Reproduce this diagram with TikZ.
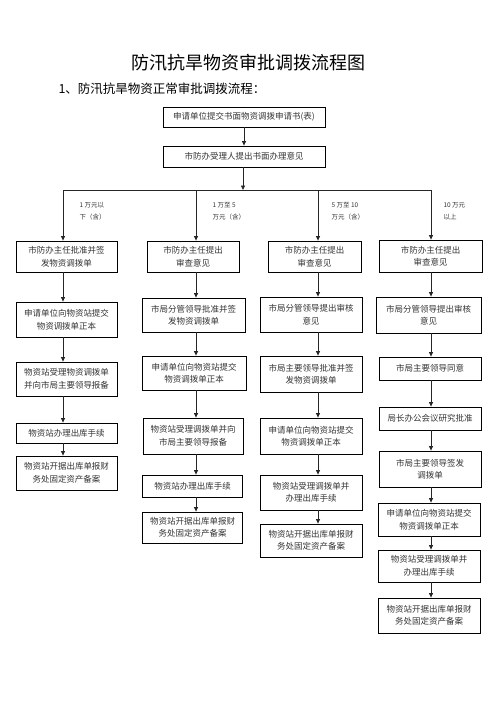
\documentclass[tikz,border=0pt]{standalone}
\usepackage{fontspec}
\setmainfont{Noto Sans CJK SC}
\usepackage{xcolor}
\usepackage{tikz}
\usetikzlibrary{arrows.meta, calc}
\tikzset{
  stepbox/.style={rectangle, draw=black, line width=0.8pt, inner sep=0pt,
                  align=center, text=black!80,
                  font=\fontsize{8.5}{12.5}\selectfont},
  arr/.style={-{Triangle[length=4.5pt,width=4pt]}, line width=0.8pt, draw=black!85},
  lnk/.style={line width=0.8pt, draw=black!85},
  amt/.style={anchor=west, align=left, text=black!80,
              font=\fontsize{6.5}{12}\selectfont},
}

\begin{document}
\begin{tikzpicture}[x=1pt,y=-1pt]
  \useasboundingbox (0,0) rectangle (496,702);
  % headings
  \node (title) at (248,63) {\fontsize{18}{20}\selectfont 防汛抗旱物资审批调拨流程图};
  \node[anchor=west] (sub) at (55,89)
        {\fontsize{12.5}{14}\selectfont 1、防汛抗旱物资正常审批调拨流程：};
  % common start
  \node[stepbox,minimum width=162pt,minimum height=20pt] (a1) at (244,117)
        {申请单位提交书面物资调拨申请书(表)};
  \node[stepbox,minimum width=162pt,minimum height=21pt] (a2) at (244,156.5)
        {市防办受理人提出书面办理意见};
  % split line
  \coordinate (j) at (243,190);
  \coordinate (k1) at (63,190);
  \coordinate (k2) at (196,190);
  \coordinate (k3) at (318,190);
  \coordinate (k4) at (431,190);
  % amount labels
  \node[amt] (l1) at (76,211)  {1 万元以\\下（含）};
  \node[amt] (l2) at (209,211) {1 万至 5\\万元（含）};
  \node[amt] (l3) at (328,211) {5 万至 10\\万元（含）};
  \node[amt] (l4) at (440,211) {10 万元\\以上};
  % column 1
  \node[stepbox,minimum width=101pt,minimum height=31pt] (b1) at (66.5,256.5)
        {市防办主任批准并签\\发物资调拨单};
  \node[stepbox,minimum width=101pt,minimum height=35pt] (b2) at (66.5,319.5)
        {申请单位向物资站提交\\物资调拨单正本};
  \node[stepbox,minimum width=101pt,minimum height=34pt] (b3) at (66.5,379)
        {物资站受理物资调拨单\\并向市局主要领导报备};
  \node[stepbox,minimum width=101pt,minimum height=20pt] (b4) at (66.5,433)
        {物资站办理出库手续};
  \node[stepbox,minimum width=101pt,minimum height=34pt] (b5) at (66.5,473)
        {物资站开据出库单报财\\务处固定资产备案};
  % column 2
  \node[stepbox,minimum width=92pt,minimum height=31pt] (c1) at (193,256.5)
        {市防办主任提出\\审查意见};
  \node[stepbox,minimum width=103pt,minimum height=34pt] (c2) at (193.5,315)
        {市局分管领导批准并签\\发物资调拨单};
  \node[stepbox,minimum width=104pt,minimum height=34pt] (c3) at (194,373)
        {申请单位向物资站提交\\物资调拨单正本};
  \node[stepbox,minimum width=100pt,minimum height=36pt] (c4) at (193,436)
        {物资站受理调拨单并向\\市局主要领导报备};
  \node[stepbox,minimum width=100pt,minimum height=22pt] (c5) at (192.5,486)
        {物资站办理出库手续};
  \node[stepbox,minimum width=100pt,minimum height=31pt] (c6) at (192.5,527.5)
        {物资站开据出库单报财\\务处固定资产备案};
  % column 3
  \node[stepbox,minimum width=93pt,minimum height=31pt] (d1) at (314.5,256.5)
        {市防办主任提出\\审查意见};
  \node[stepbox,minimum width=102pt,minimum height=35pt] (d2) at (311,314.5)
        {市局分管领导提出审核\\意见};
  \node[stepbox,minimum width=102pt,minimum height=36pt] (d3) at (311,374)
        {市局主要领导批准并签\\发物资调拨单};
  \node[stepbox,minimum width=102pt,minimum height=36pt] (d4) at (311,436)
        {申请单位向物资站提交\\物资调拨单正本};
  \node[stepbox,minimum width=102pt,minimum height=35pt] (d5) at (311,492.5)
        {物资站受理调拨单并\\办理出库手续};
  \node[stepbox,minimum width=102pt,minimum height=33pt] (d6) at (311,540.5)
        {物资站开据出库单报财\\务处固定资产备案};
  % column 4
  \node[stepbox,minimum width=103pt,minimum height=32pt] (e1) at (430.5,256)
        {市防办主任提出\\审查意见};
  \node[stepbox,minimum width=105pt,minimum height=36pt] (e2) at (428.5,315)
        {市局分管领导提出审核\\意见};
  \node[stepbox,minimum width=102pt,minimum height=23pt] (e3) at (430,368.5)
        {市局主要领导同意};
  \node[stepbox,minimum width=102pt,minimum height=23pt] (e4) at (430,418.5)
        {局长办公会议研究批准};
  \node[stepbox,minimum width=102pt,minimum height=36pt] (e5) at (430,469)
        {市局主要领导签发\\调拨单};
  \node[stepbox,minimum width=102pt,minimum height=33pt] (e6) at (429,519.5)
        {申请单位向物资站提交\\物资调拨单正本};
  \node[stepbox,minimum width=102pt,minimum height=32pt] (e7) at (429,566)
        {物资站受理调拨单并\\办理出库手续};
  \node[stepbox,minimum width=102pt,minimum height=35pt] (e8) at (429,615.5)
        {物资站开据出库单报财\\务处固定资产备案};
  % connectors
  \draw[arr] (a1) -- (a2);
  \draw[arr] (a2.south -| j) -- (j);
  \draw[lnk] (k1) -- (k4);
  \draw[arr] (k1) -- (k1 |- b1.north);
  \draw[arr] (k2) -- (k2 |- c1.north);
  \draw[arr] (k3) -- (k3 |- d1.north);
  \draw[arr] (k4) -- (k4 |- e1.north);
  \foreach \u/\v in {b1/b2, b2/b3, b3/b4, b4/b5}
    \draw[arr] (\u.south -| k1) -- (\v.north -| k1);
  \foreach \u/\v in {c1/c2, c2/c3, c3/c4, c4/c5, c5/c6}
    \draw[arr] (\u.south -| k2) -- (\v.north -| k2);
  \foreach \u/\v in {d1/d2, d2/d3, d3/d4, d4/d5, d5/d6}
    \draw[arr] (\u.south -| k3) -- (\v.north -| k3);
  \foreach \u/\v in {e1/e2, e2/e3, e3/e4, e4/e5, e5/e6, e6/e7, e7/e8}
    \draw[arr] (\u.south -| k4) -- (\v.north -| k4);
\end{tikzpicture}
\end{document}
